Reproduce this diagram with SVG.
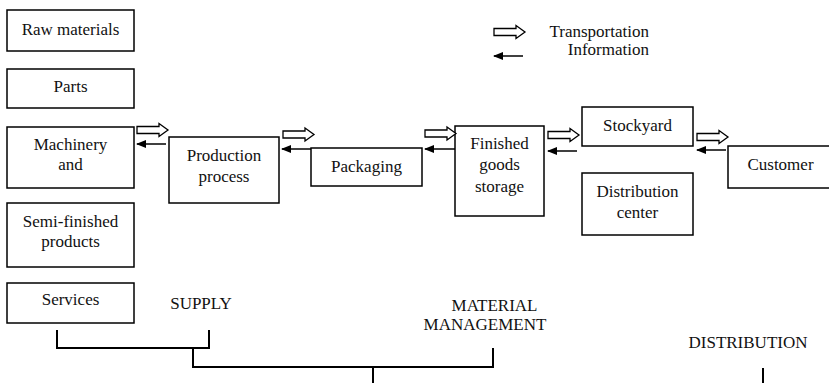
<svg xmlns="http://www.w3.org/2000/svg" width="829" height="383" viewBox="0 0 829 383">
  <style>
    .box { fill: #fff; stroke: #000; stroke-width: 1.5; }
    text { font-family: 'Liberation Serif', 'DejaVu Serif', serif; font-size: 17px; fill: #111; }
    .lbl { text-anchor: middle; }
    .lgd { text-anchor: end; }
    .info { stroke: #000; stroke-width: 1.5; fill: none; marker-end: url(#head); }
    .brk { stroke: #000; stroke-width: 2; fill: none; }
  </style>
  <defs>
    <!-- hollow block arrow: goods transport -->
    <path id="move" d="M0,-3.5 H22 V-6.5 L31,0 L22,6.5 V3.5 H0 Z" fill="#fff" stroke="#000" stroke-width="1.3"/>
    <marker id="head" viewBox="0 0 10 8" refX="9" refY="4" markerWidth="10" markerHeight="8" markerUnits="userSpaceOnUse" orient="auto">
      <path d="M0,0 L10,4 L0,8 Z" fill="#000"/>
    </marker>
  </defs>

  <rect width="829" height="383" fill="#fff"/>

  <g font-family="Liberation Serif, serif">
  <!-- inputs -->
  <g id="raw-materials">
    <rect class="box" x="7" y="10" width="127" height="41"/>
    <text class="lbl" x="70.5" y="35">Raw materials</text>
  </g>
  <g id="parts">
    <rect class="box" x="7" y="69" width="127" height="39"/>
    <text class="lbl" x="70.5" y="92">Parts</text>
  </g>
  <g id="machinery">
    <rect class="box" x="7" y="127" width="127" height="61"/>
    <text class="lbl" x="70.5" y="150">Machinery</text>
    <text class="lbl" x="70.5" y="170">and</text>
  </g>
  <g id="semi-finished">
    <rect class="box" x="7" y="203" width="127" height="64"/>
    <text class="lbl" x="70.5" y="227">Semi-finished</text>
    <text class="lbl" x="70.5" y="247">products</text>
  </g>
  <g id="services">
    <rect class="box" x="7" y="283" width="127" height="40"/>
    <text class="lbl" x="70.5" y="305">Services</text>
  </g>

  <!-- flow chain -->
  <g id="production">
    <rect class="box" x="169" y="137" width="110" height="66"/>
    <text class="lbl" x="224" y="161">Production</text>
    <text class="lbl" x="224" y="182">process</text>
  </g>
  <g id="packaging">
    <rect class="box" x="311" y="148" width="111" height="38"/>
    <text class="lbl" x="366.5" y="172">Packaging</text>
  </g>
  <g id="finished-goods">
    <rect class="box" x="455" y="126" width="89" height="90"/>
    <text class="lbl" x="499.5" y="149">Finished</text>
    <text class="lbl" x="499.5" y="170">goods</text>
    <text class="lbl" x="499.5" y="192">storage</text>
  </g>
  <g id="stockyard">
    <rect class="box" x="582" y="107" width="111" height="39"/>
    <text class="lbl" x="637.5" y="131">Stockyard</text>
  </g>
  <g id="distribution-center">
    <rect class="box" x="582" y="173" width="111" height="62"/>
    <text class="lbl" x="637.5" y="197">Distribution</text>
    <text class="lbl" x="637.5" y="218">center</text>
  </g>
  <g id="customer">
    <rect class="box" x="728" y="146" width="104" height="42"/>
    <text class="lbl" x="780.5" y="170">Customer</text>
  </g>

  <!-- legend -->
  <g id="legend">
    <use href="#move" x="494" y="32"/>
    <line class="info" x1="523" y1="56" x2="494" y2="56"/>
    <text class="lgd" x="649" y="37">Transportation</text>
    <text class="lgd" x="649" y="55">Information</text>
  </g>

  <!-- connectors -->
  <g id="connectors">
    <use href="#move" x="137" y="130"/>
    <line class="info" x1="166" y1="144" x2="137" y2="144"/>
    <use href="#move" x="283" y="134.5"/>
    <line class="info" x1="311" y1="149" x2="282" y2="149"/>
    <use href="#move" x="425" y="133.5"/>
    <line class="info" x1="455" y1="149" x2="425" y2="149"/>
    <use href="#move" x="548" y="135"/>
    <line class="info" x1="577" y1="151" x2="548" y2="151"/>
    <use href="#move" x="697" y="137"/>
    <line class="info" x1="726" y1="150" x2="697" y2="150"/>
  </g>

  <!-- stage brackets -->
  <g id="stages">
    <text class="lbl" x="201" y="309">SUPPLY</text>
    <text class="lbl" x="494.5" y="311">MATERIAL</text>
    <text class="lbl" x="485" y="330">MANAGEMENT</text>
    <text class="lbl" x="748" y="348">DISTRIBUTION</text>
    <path class="brk" d="M57,330 V348 H209 V330"/>
    <path class="brk" d="M193,348 V367 H493 V348"/>
    <path class="brk" stroke-width="1.5" d="M373,367 V383"/>
    <path class="brk" stroke-width="1.5" d="M763,368 V383"/>
  </g>
  </g>
</svg>
